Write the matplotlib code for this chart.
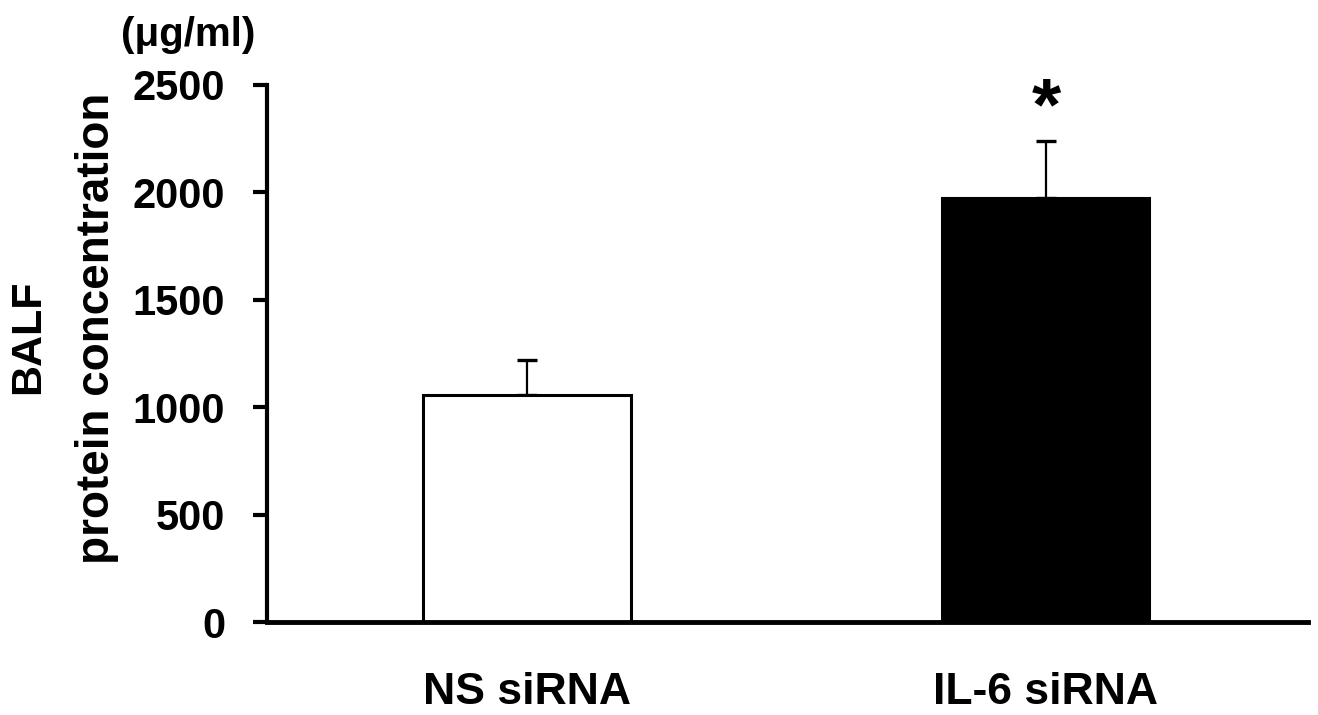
import matplotlib
matplotlib.use("Agg")
import matplotlib.pyplot as plt

categories = ["NS siRNA", "IL-6 siRNA"]
values = [1057, 1974]
errors = [163, 265]
colors = ["white", "black"]
yticks = [0, 500, 1000, 1500, 2000, 2500]

plt.rcParams['font.family'] = ['Liberation Sans', 'DejaVu Sans']
plt.rcParams['font.weight'] = 'bold'

fig = plt.figure(figsize=(13.18, 7.15), dpi=100)
ax = fig.add_axes([267/1318, 1-622/715, (1308-267)/1318, (622-85)/715])

x = list(range(len(categories)))
ax.bar(x, values, width=0.399, color=colors, edgecolor="black", linewidth=2.2, zorder=2)
ax.errorbar(x, values, yerr=[[0]*len(values), errors], fmt="none", ecolor="black",
            elinewidth=1.6, capsize=7.5, capthick=2.4, zorder=1)

ax.set_xlim(-0.501, 1.505)
ax.set_ylim(0, 2500)
ax.set_yticks(yticks)
ax.set_yticklabels([str(t) for t in yticks], fontsize=30, fontweight='bold')
ax.set_xticks(x)
ax.set_xticklabels(categories, fontsize=32, fontweight='bold')
ax.tick_params(axis='x', length=0, pad=36)
ax.tick_params(axis='y', direction='out', length=10, width=3, pad=20)
for s in ['top', 'right']:
    ax.spines[s].set_visible(False)
ax.spines['left'].set_linewidth(3)
ax.spines['bottom'].set_linewidth(3.5)

ax.text(1, values[1] + errors[1] + 145, "*", ha='center', va='center', fontsize=54, fontweight='bold')

fig.text(28/1318, 1-337/715, "BALF", rotation=90, ha='center', va='center', fontsize=31, fontweight='bold')
fig.text(97/1318, 1-328/715, "protein concentration", rotation=90, ha='center', va='center', fontsize=33, fontweight='bold')
fig.text(188/1318, 1-35/715, "(μg/ml)", ha='center', va='center', fontsize=29, fontweight='bold')

fig.savefig("out.png", dpi=100)
